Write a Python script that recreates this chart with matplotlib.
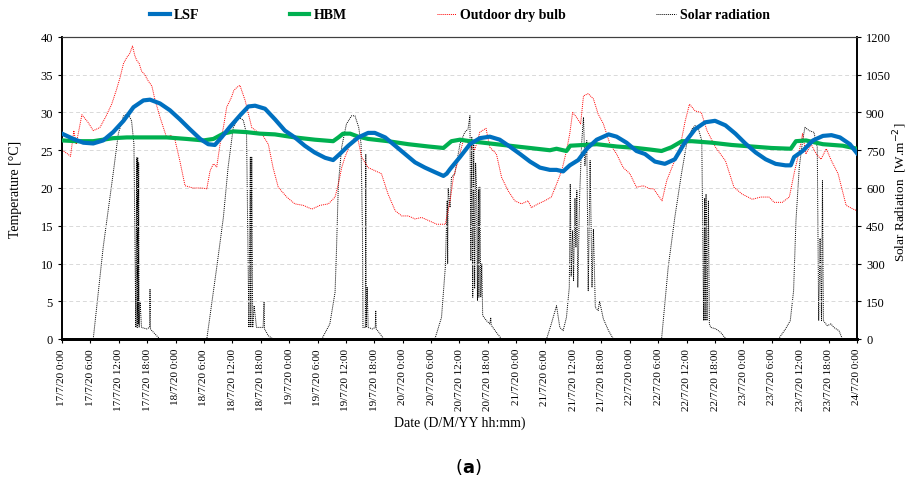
import numpy as np
import matplotlib.pyplot as plt
from datetime import datetime, timedelta

# hours since 17/7/20 0:00
lsf_h = [0, 2.4, 4.5, 6.6, 8.7, 10.8, 13, 15.1, 17.2, 18.6, 20.7, 22.8, 24.9, 27, 29.2, 30.9, 32.3,
         33.7, 35.5, 37.6, 39.4, 40.8, 42.9, 45, 47.1, 49.2, 51.3, 53.4, 55.6, 57.3, 58.7, 60.5,
         62.6, 64.7, 66.1, 68.3, 70.4, 72.5, 74.6, 76.7, 78.8, 80.6, 81.3, 82, 84.1, 86.2, 88.3,
         90.4, 92.5, 94.6, 96.8, 98.9, 101, 103.1, 104.5, 105.9, 107.3, 109.1, 110.9, 113, 115.5,
         117.2, 119.3, 121.4, 123.2, 125.3, 127.4, 129.5, 131.6, 133.8, 135.9, 138, 140.2, 142.3,
         144.4, 146.6, 148.7, 150.8, 152.9, 154, 154.7, 156.5, 158.7, 160.8, 162.6, 164.4, 166.5, 168]
lsf_t = [27.2, 26.5, 26.0, 25.9, 26.3, 27.4, 28.9, 30.7, 31.6, 31.7, 31.2, 30.3, 29.1, 27.8, 26.5,
         25.8, 25.7, 26.7, 28.1, 29.6, 30.8, 30.9, 30.5, 29.1, 27.6, 26.7, 25.6, 24.7, 24.0, 23.7,
         24.5, 25.6, 26.7, 27.3, 27.3, 26.7, 25.6, 24.5, 23.4, 22.7, 22.1, 21.6, 21.9, 22.5, 24.1,
         25.8, 26.6, 26.8, 26.4, 25.5, 24.5, 23.5, 22.7, 22.4, 22.4, 22.2, 23.0, 23.7, 25.2, 26.4,
         27.1, 26.8, 26.0, 24.9, 24.5, 23.5, 23.2, 23.8, 26.0, 27.8, 28.7, 28.9, 28.3, 27.2, 25.9,
         24.7, 23.8, 23.2, 23.0, 23.0, 24.1, 24.9, 26.3, 26.9, 27.0, 26.7, 25.8, 24.6]

hbm_h = [0, 3.1, 6.6, 8.7, 10.8, 13.7, 17.9, 22.1, 26.3, 29.9, 32, 34.1, 36.2, 39, 41.8, 45, 49.2,
         53.4, 57.3, 58.4, 59.4, 60.9, 62.6, 64.7, 68.9, 73.2, 77.4, 80.6, 82.3, 84.1, 86.2, 90.4,
         94.6, 98.9, 103.1, 104.5, 106.6, 107.4, 110.2, 113, 117.2, 121.4, 124.2, 126.7, 128.8, 131,
         133.1, 137.3, 141.5, 145.7, 149.9, 154, 155.1, 157.2, 160.8, 165, 168]
hbm_t = [26.3, 26.2, 26.2, 26.4, 26.6, 26.7, 26.7, 26.7, 26.5, 26.3, 26.5, 27.2, 27.5, 27.4, 27.2,
         27.1, 26.7, 26.4, 26.2, 26.7, 27.2, 27.2, 26.8, 26.5, 26.2, 25.8, 25.5, 25.3, 26.2, 26.4,
         26.2, 25.9, 25.6, 25.3, 25.0, 25.2, 24.9, 25.6, 25.7, 25.8, 25.5, 25.3, 25.1, 24.9, 25.4,
         26.2, 26.2, 26.0, 25.7, 25.5, 25.3, 25.2, 26.2, 26.3, 25.8, 25.6, 25.2]

out_h = [0, 1.0, 1.8, 2.5, 3.0, 4.2, 5.5, 6.6, 8, 9.3, 10.5, 11.5, 12.3, 13.0, 13.7, 14.3, 14.9, 15.4,
         15.8, 16.3, 16.8, 17.5, 18.2, 19.0, 19.6, 20.7, 22.1, 23.0, 23.9, 24.9, 26, 27.7, 29.5, 30.6,
         31.3, 32, 32.7, 33.4, 34.1, 34.8, 35.8, 36.3, 36.9, 37.6, 38.2, 38.7, 40.1, 41.8, 42.2, 43.6,
         44.6, 45.7, 47.5, 49.2, 51, 52.8, 54.5, 56.3, 57.7, 58.4, 59.1, 59.8, 60.9, 61.6, 62.6, 63.3,
         64.7, 66.1, 67.5, 68.9, 70.4, 71.8, 73.2, 74.6, 76, 77.4, 79.2, 81, 82, 82.7, 83.7, 84.8,
         86.2, 87.2, 88.3, 89.6, 90.4, 91.8, 92.9, 94.3, 95.7, 97.1, 98.5, 99.2, 100.6, 102, 103.4,
         104.5, 105.6, 106.6, 107.3, 107.9, 108.7, 109.6, 110.2, 111.2, 112.3, 113.3, 114.4, 115.8,
         117.2, 118.6, 120, 121.4, 122.8, 124.2, 125, 126.8, 127.8, 129.2, 130.6, 131.7, 132.6, 133.8,
         135.1, 136.3, 138.1, 140.2, 142, 143.7, 145.9, 147.6, 149.4, 150.5, 152.2, 153.7, 154.7,
         155.8, 156.5, 157.2, 158.3, 159.4, 160.4, 161.5, 162.6, 164, 165.7, 167.2, 168]
out_t = [25.0, 24.6, 24.2, 27.6, 25.8, 29.7, 28.7, 27.6, 28.0, 29.5, 31.1, 33.0, 34.7, 36.5, 37.3,
         37.8, 38.8, 37.5, 36.9, 36.5, 35.5, 35.0, 34.2, 33.5, 31.8, 29.4, 26.7, 27.0, 26.3, 23.6,
         20.3, 20.0, 20.0, 19.9, 22.3, 23.2, 22.8, 25.8, 28.0, 30.7, 32.0, 32.9, 33.3, 33.6, 32.5,
         31.6, 28.0, 27.2, 27.2, 25.8, 22.7, 20.1, 18.8, 17.9, 17.7, 17.2, 17.7, 17.9, 18.8, 20.5,
         22.7, 24.1, 25.8, 26.5, 26.3, 24.1, 22.7, 22.3, 21.9, 19.2, 17.0, 16.3, 16.3, 15.9, 16.1,
         15.7, 15.2, 15.2, 18.3, 21.4, 23.6, 26.3, 25.8, 25.0, 27.4, 27.9, 25.4, 24.5, 21.4, 19.6,
         18.3, 17.9, 18.3, 17.4, 17.9, 18.3, 18.8, 20.5, 22.3, 24.9, 27.2, 30.0, 29.4, 28.5, 32.2,
         32.5, 31.8, 29.8, 28.5, 25.8, 24.5, 22.7, 21.9, 20.1, 20.3, 19.9, 19.9, 18.3, 21.0, 23.2,
         25.4, 28.9, 31.1, 30.2, 30.0, 27.6, 25.4, 23.6, 20.1, 19.2, 18.5, 18.8, 18.8, 18.1, 18.1,
         18.8, 21.9, 24.9, 27.2, 24.5, 25.8, 24.5, 23.8, 25.2, 23.6, 21.9, 17.7, 17.2, 17.0]

sol_h = [0, 6.6, 8.7, 10.8, 11.9, 13, 14, 14.7, 15.2, 15.6, 15.8, 15.9, 16.0, 16.1, 16.2, 16.3, 16.5,
         16.8, 17.9, 18.5, 18.6, 18.7, 19, 20, 20.7,
         30.6, 32.7, 34.1, 35.1, 36.2, 37.3, 38.3, 39, 39.5, 39.8, 39.9, 40.1, 40.3, 40.6, 41.1, 42.5,
         42.7, 42.8, 43.6, 44.6,
         54.9, 56.6, 57.7, 58, 58.4, 59.1, 60.1, 61.2, 61.9, 62.7, 63.2, 63.5, 63.6, 64.1, 64.2, 64.3,
         64.5, 64.7, 65.6, 66.2, 66.3, 66.4, 67, 68,
         78.8, 80.2, 81, 81.4, 81.5, 81.6, 82, 82.3, 83, 84.1, 85.1, 85.8, 86.2, 86.4, 86.6, 86.8, 87.0,
         87.2, 87.4, 87.6, 87.8, 88.0, 88.1, 88.3, 88.5, 88.7, 88.9, 89.7, 90.4, 90.6, 90.7, 91.8, 92.9,
         102.4, 103.4, 104.5, 105.2, 105.9, 106.6, 107.2, 107.4, 107.6, 107.9, 108.1, 108.4, 108.6,
         108.8, 109, 109.4, 109.8, 110.2, 110.5, 110.9, 111.2, 111.6, 112, 112.3, 112.7, 113.3, 113.6,
         114.4, 115.5, 116.5,
         126.7, 128.1, 129.5, 130.9, 132, 133.1, 133.8, 134.5, 135.2, 135.6, 135.8, 135.9, 136.1,
         136.3, 136.6, 136.8, 137.1, 138.2, 139.2, 140.3,
         151.4, 152.9, 153.9, 154.6, 155.1, 155.8, 156.5, 157, 157.9, 158.9, 159.6, 159.9, 160.2,
         160.5, 160.7, 160.9, 161.7, 162.5, 163.1, 164.2, 164.9, 168]
sol_w = [0, 0, 364, 656, 815, 887, 894, 867, 775, 46, 720, 46, 722, 60, 700, 46, 152,
         46, 40, 46, 199, 40, 33, 13, 0,
         0, 285, 483, 682, 841, 881, 870, 815, 46, 722, 46, 722, 46, 132, 46, 46,
         146, 40, 13, 0,
         0, 60, 185, 351, 616, 762, 854, 887, 887, 841, 775, 417, 46, 46, 735, 46,
         205, 46, 40, 46, 113, 40, 26, 0,
         0, 86, 285, 550, 300, 600, 523, 642, 656, 775, 821, 834, 887, 311, 801, 166, 780,
         200, 700, 603, 152, 603, 166, 603, 166, 300, 93, 73, 60, 85, 55, 26, 0,
         0, 60, 132, 46, 33, 86, 205, 616, 250, 430, 232, 560, 364,
         590, 205, 576, 775, 881, 689, 788, 192, 709, 205, 437, 126, 113, 150,
         80, 33, 0,
         0, 285, 483, 656, 775, 834, 848, 834, 788, 73, 560, 73, 576,
         73, 550, 60, 46, 40, 26, 0,
         0, 40, 73, 192, 470, 682, 788, 841, 828, 821, 762, 73, 400,
         73, 629, 73, 53, 60, 46, 33, 0, 0]

tick_hours = list(range(0, 169, 6))
start = datetime(2020, 7, 17)
tick_labels = []
for h in tick_hours:
    d = start + timedelta(hours=h)
    tick_labels.append(f"{d.day}/{d.month}/{d.strftime('%y')} {d.hour}:00")

plt.rcParams['font.family'] = ['Liberation Serif', 'DejaVu Serif']

fig = plt.figure(figsize=(9.15, 4.81), dpi=100)
ax = fig.add_axes([62/915, 1-340/481, 795/915, 302/481])
ax2 = ax.twinx()

dot = (0, (1, 1))
l3, = ax.plot(out_h, out_t, color='#ff0000', lw=0.7, ls=dot, label='Outdoor dry bulb', zorder=2)
l4, = ax2.plot(sol_h, sol_w, color='#000000', lw=0.7, ls=dot, label='Solar radiation', zorder=2)
l1, = ax.plot(lsf_h, lsf_t, color='#0070c0', lw=3, label='LSF', zorder=4)
l2, = ax.plot(hbm_h, hbm_t, color='#00b050', lw=3, label='HBM', zorder=3)
ax.set_zorder(ax2.get_zorder() + 1)
ax.patch.set_visible(False)

ax.set_xlim(0, 168)
ax.set_ylim(0, 40)
ax2.set_ylim(0, 1200)
ax.set_yticks(range(0, 41, 5))
ax2.set_yticks(range(0, 1201, 150))
ax.set_xticks(tick_hours)
ax.set_xticklabels(tick_labels, rotation=90, fontsize=8)
ax.tick_params(axis='y', labelsize=9, length=3)
ax2.tick_params(axis='y', labelsize=9, length=3)
ax.tick_params(axis='x', length=3)
ax.grid(axis='y', color='#d9d9d9', ls=(0, (4, 3)), lw=0.7)

for a in (ax, ax2):
    a.spines['bottom'].set_linewidth(2)
    a.spines['top'].set_color('#404040')
    a.spines['top'].set_linewidth(0.8)
    a.spines['left'].set_linewidth(1.2)
    a.spines['right'].set_linewidth(1.2)

ax.set_ylabel('Temperature [°C]', fontsize=10)
ax2.set_ylabel('Solar Radiation  [W.m$^{-2}$]', fontsize=9.5)
ax.yaxis.set_label_coords(-0.05, 0.5)
ax2.yaxis.set_label_coords(1.043, 0.49)
ax.set_xlabel('Date (D/M/YY hh:mm)', fontsize=10)

fig.legend(handles=[l1, l2, l3, l4], loc='center', bbox_to_anchor=(0.503, 0.967), ncol=4,
           frameon=False, prop={'weight': 'bold', 'size': 10}, handlelength=1.4,
           handletextpad=0.3, columnspacing=6.5)

fig.text(0.512, 0.03, '(' + r'$\mathbf{a}$' + ')', ha='center', va='center', fontsize=13,
         family='DejaVu Sans')

fig.savefig('out.png', dpi=100)
